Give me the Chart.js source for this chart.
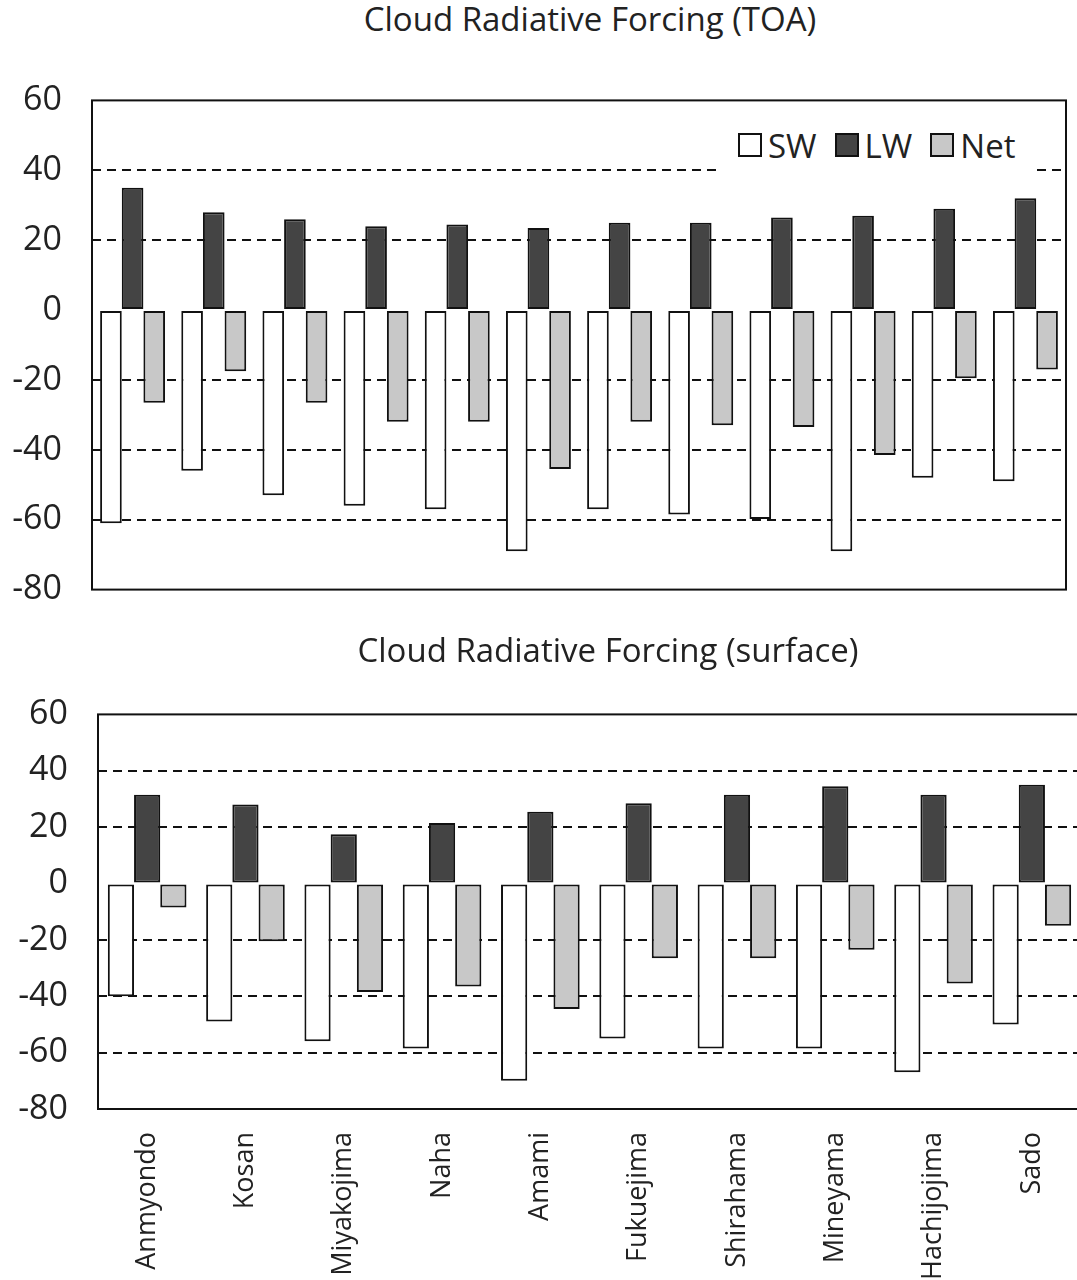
<!DOCTYPE html>
<html lang="en">

<head>
    <meta charset="UTF-8">
    <meta name="viewport" content="width=device-width, initial-scale=1.0">
    <title>Cloud Radiative Forcing</title>
    <style>
        html,
        body {
            margin: 0;
            padding: 0;
            width: 1077px;
            height: 1280px;
            overflow: hidden;
            background: #fff;
            font-family: 'Open Sans', sans-serif;
            color: #222;
        }

        .title {
            position: absolute;
            font-size: 33px;
            line-height: 33px;
            white-space: nowrap;
            transform: translateX(-50%);
        }

        .wrap {
            position: absolute;
            left: 0;
            line-height: 0;
        }

        #legend {
            position: absolute;
            left: 720px;
            top: 116px;
            width: 315px;
            height: 58px;
            background: #fff;
            display: flex;
            align-items: center;
            padding-left: 18px;
            box-sizing: border-box;
            font-size: 33px;
            line-height: 33px;
        }

        #legend .item {
            display: flex;
            align-items: center;
            margin-right: 18px;
        }

        #legend .box {
            width: 24px;
            height: 24px;
            border: 2px solid #111;
            box-sizing: border-box;
            margin-right: 6px;
        }
    </style>
</head>

<body>
    <div class="title" style="left: 590px; top: 2px;">Cloud Radiative Forcing (TOA)</div>
    <div class="wrap" style="top: 50px;"><canvas id="toa" width="1077" height="590"></canvas></div>
    <div id="legend"></div>

    <div class="title" style="left: 608px; top: 633px;">Cloud Radiative Forcing (surface)</div>
    <div class="wrap" style="top: 664px;"><canvas id="sfc" width="1085" height="616"></canvas></div>

    <script src="https://cdn.jsdelivr.net/npm/chart.js@4.4.1/dist/chart.umd.min.js"></script>

    <script>
        // series
        const seriesNames = ['SW', 'LW', 'Net'];
        const seriesColors = ['#ffffff', '#444444', '#c8c8c8'];

        // TOA: 12 sites, no labels printed on the axis
        const toaSites = ['1', '2', '3', '4', '5', '6', '7', '8', '9', '10', '11', '12'];
        const toaSW = [-61, -46, -53, -56, -57, -69, -57, -58.5, -59.8, -69, -48, -49];
        const toaLW = [35, 28, 26, 24, 24.5, 23.5, 25, 25, 26.5, 27, 29, 32];
        const toaNet = [-26.5, -17.5, -26.5, -32, -32, -45.5, -32, -33, -33.5, -41.5, -19.5, -17];

        // surface: 10 sites
        const sfcSites = ['Anmyondo', 'Kosan', 'Miyakojima', 'Naha', 'Amami', 'Fukuejima', 'Shirahama', 'Mineyama', 'Hachijojima', 'Sado'];
        const sfcSW = [-40, -49, -56, -58.5, -70, -55, -58.5, -58.5, -67, -50];
        const sfcLW = [31.5, 28, 17.5, 21.5, 25.5, 28.5, 31.5, 34.5, 31.5, 35];
        const sfcNet = [-8.5, -20.5, -38.5, -36.5, -44.5, -26.5, -26.5, -23.5, -35.5, -15];

        // y axis
        const yMin = -80;
        const yMax = 60;
        const yStep = 20;
        const dashedAt = [40, 20, -20, -40, -60];

        const frame = {
            id: 'frame',
            afterDatasetsDraw(chart) {
                const { ctx, chartArea: a } = chart;
                ctx.save();
                ctx.strokeStyle = '#111';
                ctx.lineWidth = 2;
                ctx.strokeRect(a.left, a.top, a.right - a.left, a.bottom - a.top);
                ctx.restore();
            }
        };

        function makeDatasets(sw, lw, net) {
            return [sw, lw, net].map((vals, i) => ({
                label: seriesNames[i],
                data: vals,
                backgroundColor: seriesColors[i],
                borderColor: '#111',
                borderWidth: 2,
                borderSkipped: false,
                barPercentage: 1,
                categoryPercentage: 0.8
            }));
        }

        // tick padding (30) is also added above/below the plot by chart.js
        function yAxis(width) {
            return {
                min: yMin,
                max: yMax,
                afterFit: (s) => { s.width = width; },
                ticks: {
                    stepSize: yStep,
                    padding: 30,
                    color: '#222',
                    font: { family: 'Open Sans', size: 34 }
                },
                grid: {
                    drawTicks: false,
                    lineWidth: 2,
                    color: (c) => dashedAt.includes(c.tick.value) ? '#111' : 'rgba(0,0,0,0)'
                },
                border: { display: false, dash: [9, 6] }
            };
        }

        const common = {
            responsive: false,
            animation: false,
            plugins: { legend: { display: false }, tooltip: { enabled: false } }
        };

        new Chart(document.querySelector('#toa'), {
            type: 'bar',
            data: { labels: toaSites, datasets: makeDatasets(toaSW, toaLW, toaNet) },
            options: {
                ...common,
                layout: { padding: { top: 0, bottom: 0, right: 11, left: 0 } },
                scales: {
                    x: { display: false },
                    y: yAxis(92)
                }
            },
            plugins: [frame]
        });

        new Chart(document.querySelector('#sfc'), {
            type: 'bar',
            data: { labels: sfcSites, datasets: makeDatasets(sfcSW, sfcLW, sfcNet) },
            options: {
                ...common,
                layout: { padding: { top: 0, bottom: 0, right: 4, left: 0 } },
                scales: {
                    x: {
                        afterFit: (s) => { s.height = 171; },
                        grid: { display: false },
                        border: { display: false },
                        ticks: {
                            autoSkip: false,
                            minRotation: 90,
                            maxRotation: 90,
                            padding: 15,
                            color: '#222',
                            font: { family: 'Open Sans', size: 27 }
                        }
                    },
                    y: yAxis(98)
                }
            },
            plugins: [frame]
        });

        // legend box inside the TOA plot
        const legend = document.querySelector('#legend');
        seriesNames.forEach((name, i) => {
            const item = document.createElement('div');
            item.className = 'item';
            const box = document.createElement('span');
            box.className = 'box';
            box.style.background = seriesColors[i];
            const txt = document.createElement('span');
            txt.textContent = name;
            item.appendChild(box);
            item.appendChild(txt);
            legend.appendChild(item);
        });
    </script>
</body>

</html>
